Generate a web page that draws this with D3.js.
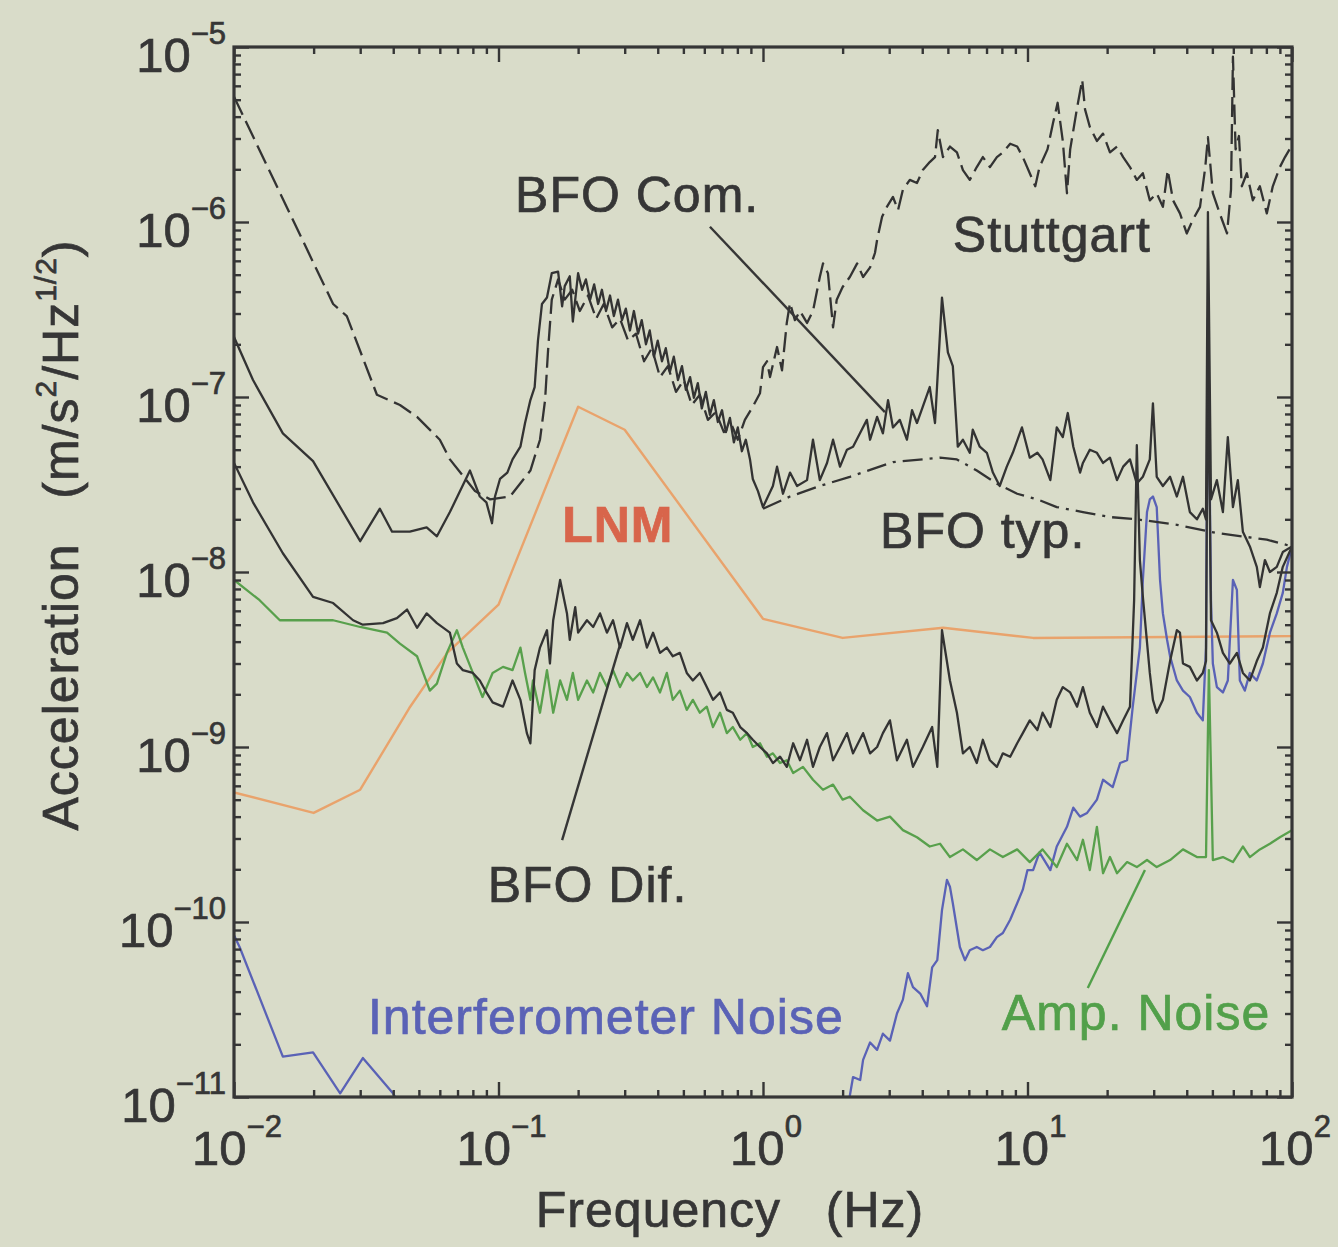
<!DOCTYPE html>
<html>
<head>
<meta charset="utf-8">
<script src="https://cdn.jsdelivr.net/npm/d3@7"></script>
<style>
  html, body { margin: 0; background: #d9dcc9; }
  svg { display: block; font-family: "Liberation Sans", Arial, Helvetica, sans-serif; }
</style>
</head>
<body>
<div id="chart"></div>
<script>
// ---- data: [frequency (Hz), acceleration (m/s^2/Hz^1/2)] ----
const stuttgart = [
  [0.01,5.2e-6],[0.0237,3.4e-7],[0.0267,2.9e-7],[0.0347,1.03e-7],[0.0424,9.0e-8],[0.0492,7.7e-8],[0.060,5.7e-8],
  [0.0655,4.4e-8],[0.0815,2.9e-8],[0.093,2.6e-8],[0.1105,2.7e-8],[0.132,3.8e-8],[0.1435,5.7e-8],[0.150,9.6e-8],
  [0.154,1.86e-7],[0.159,3.6e-7],[0.168,4.7e-7],[0.178,3.6e-7],[0.19,4.1e-7],[0.203,3.1e-7],[0.218,3.8e-7],
  [0.234,2.8e-7],[0.25,3.4e-7],[0.269,2.5e-7],[0.288,2.8e-7],[0.309,2.1e-7],[0.331,2.3e-7],[0.355,1.6e-7],
  [0.38,1.9e-7],[0.408,1.3e-7],[0.437,1.5e-7],[0.469,1.07e-7],[0.502,1.25e-7],[0.538,9.0e-8],[0.577,1.03e-7],
  [0.619,7.4e-8],[0.663,8.2e-8],[0.711,6.3e-8],[0.762,6.9e-8],[0.803,5.7e-8],[0.854,7.4e-8],[0.915,8.8e-8],
  [0.974,1.05e-7],[1.0,1.48e-7],[1.035,1.6e-7],[1.063,1.3e-7],[1.13,1.93e-7],[1.18,1.42e-7],[1.23,2.65e-7],
  [1.265,3.45e-7],[1.32,2.75e-7],[1.38,3.1e-7],[1.467,2.65e-7],[1.545,3.1e-7],[1.64,4.85e-7],[1.686,5.8e-7],
  [1.76,5.1e-7],[1.84,2.5e-7],[1.9,3.6e-7],[2.0,4.25e-7],[2.13,4.85e-7],[2.27,5.8e-7],[2.39,4.85e-7],
  [2.54,5.5e-7],[2.65,6.65e-7],[2.7,7.9e-7],[2.82,1.07e-6],[2.94,1.22e-6],[3.1,1.39e-6],[3.24,1.17e-6],
  [3.38,1.53e-6],[3.59,1.74e-6],[3.82,1.67e-6],[4.02,1.98e-6],[4.27,2.2e-6],[4.47,2.35e-6],[4.58,3.35e-6],
  [4.79,2.35e-6],[5.09,2.7e-6],[5.41,2.5e-6],[5.7,1.98e-6],[6.05,1.74e-6],[6.43,2.06e-6],[6.78,2.35e-6],
  [7.21,2.06e-6],[7.66,2.35e-6],[8.07,2.5e-6],[8.6,2.8e-6],[9.14,2.7e-6],[9.6,2.35e-6],[10.2,1.9e-6],
  [10.7,1.6e-6],[11.1,2.06e-6],[11.9,2.6e-6],[12.5,3.7e-6],[13.0,4.8e-6],[13.6,2.9e-6],[14.1,1.46e-6],
  [14.5,2.6e-6],[15.4,4.5e-6],[16.1,6.5e-6],[16.5,4.4e-6],[17.2,3.5e-6],[18.3,2.9e-6],[19.3,3.2e-6],
  [20.5,2.5e-6],[21.8,2.7e-6],[23.0,2.35e-6],[24.4,2.06e-6],[25.9,1.74e-6],[27.3,1.9e-6],[29.0,1.33e-6],
  [30.8,1.46e-6],[32.5,1.22e-6],[33.9,1.98e-6],[35.5,1.33e-6],[37.7,1.12e-6],[40.0,8.6e-7],[42.2,1.03e-6],
  [44.9,1.22e-6],[47.0,2.06e-6],[48.1,3.05e-6],[50.2,1.46e-6],[53.3,1.12e-6],[56.8,8.6e-7],[58.8,1.53e-6],
  [59.8,8.8e-6],[61.2,2.6e-6],[63.0,3.1e-6],[64.6,1.6e-6],[67.5,1.9e-6],[71.1,1.33e-6],[75.6,1.6e-6],
  [80.3,1.12e-6],[84.6,1.6e-6],[90.0,2.06e-6],[94.1,2.35e-6],[100,2.75e-6]
];

const bfoCom = [
  [0.01,2.2e-7],[0.0118,1.25e-7],[0.0153,6.2e-8],[0.0199,4.3e-8],[0.030,1.5e-8],[0.0356,2.3e-8],[0.0396,1.7e-8],
  [0.0462,1.7e-8],[0.0535,1.8e-8],[0.0585,1.6e-8],[0.0655,2.2e-8],[0.078,3.8e-8],[0.085,2.7e-8],[0.090,2.5e-8],
  [0.0945,1.9e-8],[0.097,2.7e-8],[0.1013,3.4e-8],[0.108,3.7e-8],[0.113,4.4e-8],[0.121,5.2e-8],[0.126,7.1e-8],
  [0.132,9.6e-8],[0.137,1.14e-7],[0.141,2.1e-7],[0.146,3.4e-7],[0.1525,3.7e-7],[0.159,5.1e-7],[0.168,5.2e-7],
  [0.174,3.3e-7],[0.178,4.3e-7],[0.186,4.9e-7],[0.191,2.7e-7],[0.200,5.1e-7],[0.207,4.1e-7],[0.214,4.7e-7],
  [0.222,3.6e-7],[0.230,4.4e-7],[0.238,3.4e-7],[0.246,4.1e-7],[0.255,3.1e-7],[0.264,3.8e-7],[0.273,2.9e-7],
  [0.283,3.6e-7],[0.293,2.75e-7],[0.303,3.2e-7],[0.314,2.4e-7],[0.325,3.1e-7],[0.337,2.3e-7],[0.348,2.75e-7],
  [0.361,2.0e-7],[0.373,2.4e-7],[0.387,1.7e-7],[0.400,2.1e-7],[0.415,1.6e-7],[0.429,1.9e-7],[0.445,1.4e-7],
  [0.46,1.7e-7],[0.477,1.25e-7],[0.494,1.5e-7],[0.511,1.1e-7],[0.53,1.3e-7],[0.548,9.9e-8],[0.567,1.2e-7],
  [0.587,8.6e-8],[0.608,1.07e-7],[0.63,7.9e-8],[0.652,9.6e-8],[0.675,7.2e-8],[0.70,8.4e-8],[0.724,6.3e-8],
  [0.75,7.6e-8],[0.776,5.5e-8],[0.803,6.7e-8],[0.832,4.9e-8],[0.861,5.7e-8],[0.893,4.4e-8],[0.915,3.4e-8],
  [0.957,2.9e-8],[1.0,2.35e-8],[1.09,3.1e-8],[1.13,4.0e-8],[1.19,2.8e-8],[1.265,3.7e-8],[1.345,3.1e-8],
  [1.467,3.35e-8],[1.545,5.7e-8],[1.64,3.35e-8],[1.746,4.2e-8],[1.84,5.7e-8],[1.955,4.0e-8],[2.077,5.0e-8],
  [2.19,5.2e-8],[2.326,6.2e-8],[2.47,7.4e-8],[2.54,5.7e-8],[2.70,7.7e-8],[2.84,6.2e-8],[2.97,9.6e-8],
  [3.10,6.7e-8],[3.29,7.4e-8],[3.50,5.7e-8],[3.66,8.4e-8],[3.82,7.1e-8],[4.02,8.8e-8],[4.27,1.14e-7],
  [4.47,7.1e-8],[4.75,3.7e-7],[5.0,1.8e-7],[5.22,1.5e-7],[5.45,5.2e-8],[5.70,5.7e-8],[6.05,4.8e-8],
  [6.21,6.5e-8],[6.6,5.2e-8],[7.02,4.8e-8],[7.4,3.7e-8],[7.85,3.1e-8],[8.35,4.0e-8],[8.8,4.8e-8],[9.53,6.7e-8],
  [10.2,4.5e-8],[10.9,4.8e-8],[11.4,4.4e-8],[12.2,3.35e-8],[12.9,6.7e-8],[13.6,5.9e-8],[14.2,8.1e-8],
  [14.9,5.2e-8],[15.8,3.7e-8],[16.2,4.2e-8],[17.2,5.0e-8],[18.3,4.8e-8],[19.3,4.2e-8],[20.5,4.5e-8],
  [21.8,3.35e-8],[23.0,4.0e-8],[24.4,4.4e-8],[25.9,3.2e-8],[27.3,3.5e-8],[29.0,4.4e-8],[29.8,9.2e-8],
  [30.8,3.5e-8],[32.5,3.1e-8],[34.6,3.5e-8],[36.7,2.7e-8],[38.7,3.5e-8],[41.1,2.2e-8],[43.7,2.0e-8],
  [46.0,2.3e-8],[47.3,2.0e-8],[48.1,1.14e-6],[49.4,2.6e-8],[52.0,3.35e-8],[54.8,2.2e-8],[57.2,5.9e-8],
  [59.8,2.35e-8],[62.4,3.35e-8],[65.2,1.7e-8],[69.3,1.4e-8],[73.6,1.07e-8],[75.6,8.2e-9],[79.0,1.17e-8],
  [82.5,1.0e-8],[87.6,1.07e-8],[92.3,1.3e-8],[100,1.4e-8]
];

const bfoTyp = [
  [1.0,2.3e-8],[1.265,2.7e-8],[1.64,3.1e-8],[2.13,3.5e-8],[3.1,4.25e-8],[4.67,4.5e-8],[5.41,4.4e-8],
  [6.43,3.8e-8],[7.66,3.2e-8],[9.14,2.8e-8],[10.9,2.6e-8],[12.9,2.35e-8],[16.2,2.2e-8],[20.5,2.06e-8],
  [25.9,2.0e-8],[36.7,1.86e-8],[52.0,1.67e-8],[80.3,1.53e-8],[100,1.4e-8]
];

const bfoDif = [
  [0.01,4.2e-8],[0.0118,2.5e-8],[0.0153,1.28e-8],[0.0199,7.2e-9],[0.0237,6.65e-9],[0.0282,5.3e-9],[0.0307,5.0e-9],
  [0.0366,5.1e-9],[0.0413,5.45e-9],[0.0451,6.1e-9],[0.0492,4.8e-9],[0.0535,5.8e-9],[0.0585,5.1e-9],[0.0655,4.5e-9],
  [0.0696,3.0e-9],[0.0733,2.75e-9],[0.080,2.65e-9],[0.085,2.4e-9],[0.090,2.05e-9],[0.095,1.8e-9],[0.104,1.7e-9],
  [0.113,2.4e-9],[0.121,1.86e-9],[0.128,1.2e-9],[0.132,1.05e-9],[0.137,2.75e-9],[0.1435,3.7e-9],[0.1525,4.65e-9],
  [0.1565,3.0e-9],[0.161,5.3e-9],[0.171,9.0e-9],[0.1815,5.8e-9],[0.186,4.1e-9],[0.195,6.3e-9],[0.2,4.5e-9],
  [0.216,5.3e-9],[0.228,4.85e-9],[0.242,5.8e-9],[0.257,4.5e-9],[0.271,5.3e-9],[0.288,3.7e-9],[0.306,5.1e-9],
  [0.322,4.1e-9],[0.343,5.3e-9],[0.364,3.7e-9],[0.384,4.5e-9],[0.408,3.45e-9],[0.433,3.7e-9],[0.456,3.3e-9],
  [0.485,3.45e-9],[0.515,2.65e-9],[0.543,2.4e-9],[0.577,2.65e-9],[0.613,2.2e-9],[0.647,1.86e-9],[0.688,2.05e-9],
  [0.73,1.63e-9],[0.769,1.57e-9],[0.82,1.3e-9],[0.87,1.2e-9],[0.915,1.1e-9],[0.974,1.0e-9],[1.035,9.2e-10],
  [1.09,8.1e-10],[1.16,8.8e-10],[1.23,7.7e-10],[1.30,1.05e-9],[1.38,8.4e-10],[1.467,1.1e-9],[1.545,7.7e-10],
  [1.64,1.0e-9],[1.746,1.2e-9],[1.84,8.4e-10],[1.955,1.0e-9],[2.077,1.2e-9],[2.19,9.2e-10],[2.39,1.2e-9],
  [2.54,9.2e-10],[2.70,1.0e-9],[2.84,1.2e-9],[3.02,1.42e-9],[3.21,8.4e-10],[3.50,1.1e-9],[3.69,7.7e-10],
  [4.02,1.0e-9],[4.36,1.3e-9],[4.56,7.7e-10],[4.75,4.65e-9],[5.09,2.4e-9],[5.41,1.57e-9],[5.70,9.2e-10],
  [6.05,1.0e-9],[6.43,8.1e-10],[6.78,1.1e-9],[7.21,8.4e-10],[7.66,7.7e-10],[8.07,9.2e-10],[8.6,8.8e-10],
  [9.14,1.05e-9],[9.6,1.2e-9],[10.2,1.42e-9],[10.9,1.25e-9],[11.4,1.57e-9],[12.2,1.3e-9],[12.9,1.86e-9],
  [13.6,2.2e-9],[14.5,2.05e-9],[15.4,1.7e-9],[16.2,2.2e-9],[17.2,1.57e-9],[18.3,1.3e-9],[19.3,1.7e-9],
  [20.5,1.42e-9],[21.8,1.2e-9],[23.0,1.42e-9],[24.4,1.7e-9],[25.3,6.9e-9],[25.9,5.3e-8],[26.6,1.17e-8],
  [27.3,7.2e-9],[29.0,2.65e-9],[29.8,1.86e-9],[30.8,1.57e-9],[32.5,1.86e-9],[34.6,3.1e-9],[36.7,4.65e-9],
  [37.7,4.5e-9],[38.7,3.0e-9],[41.1,2.87e-9],[43.7,2.4e-9],[46.0,2.65e-9],[47.3,3.1e-9],[48.1,2.4e-7],
  [49.4,5.3e-9],[52.0,4.5e-9],[54.8,3.45e-9],[58.2,3.0e-9],[61.9,3.45e-9],[65.2,2.65e-9],[69.3,2.4e-9],
  [73.6,3.1e-9],[77.6,3.7e-9],[82.5,5.8e-9],[87.6,7.6e-9],[92.3,1.07e-8],[100,1.4e-8]
];

const lnm = [
  [0.01,5.5e-10],[0.02,4.2e-10],[0.03,5.7e-10],[0.046,1.67e-9],[0.064,3.45e-9],[0.1,6.5e-9],[0.2,8.8e-8],
  [0.3,6.5e-8],[1.0,5.4e-9],[2.0,4.2e-9],[4.8,4.8e-9],[10.5,4.2e-9],[100,4.3e-9]
];

const ampNoise = [
  [0.01,9.0e-9],[0.0125,6.9e-9],[0.0149,5.3e-9],[0.0237,5.3e-9],[0.030,4.85e-9],[0.0379,4.5e-9],[0.0424,3.9e-9],
  [0.0492,3.3e-9],[0.055,2.1e-9],[0.0585,2.3e-9],[0.0638,3.45e-9],[0.0696,4.65e-9],[0.0733,3.7e-9],[0.080,2.65e-9],
  [0.087,1.93e-9],[0.095,2.65e-9],[0.104,2.87e-9],[0.113,2.75e-9],[0.121,3.7e-9],[0.126,2.65e-9],[0.132,1.86e-9],
  [0.135,2.4e-9],[0.1435,1.57e-9],[0.1525,2.75e-9],[0.161,1.57e-9],[0.171,2.4e-9],[0.1815,1.86e-9],[0.191,2.65e-9],
  [0.2,1.86e-9],[0.216,2.4e-9],[0.228,2.05e-9],[0.242,2.65e-9],[0.257,2.2e-9],[0.271,2.75e-9],[0.288,2.2e-9],
  [0.306,2.65e-9],[0.322,2.4e-9],[0.343,2.65e-9],[0.364,2.2e-9],[0.384,2.5e-9],[0.408,2.05e-9],[0.433,2.65e-9],
  [0.456,1.86e-9],[0.485,2.1e-9],[0.515,1.63e-9],[0.543,1.86e-9],[0.577,1.57e-9],[0.613,1.7e-9],[0.647,1.3e-9],
  [0.688,1.57e-9],[0.73,1.2e-9],[0.769,1.3e-9],[0.82,1.1e-9],[0.87,1.2e-9],[0.915,1.0e-9],[0.974,1.05e-9],
  [1.035,8.8e-10],[1.09,9.2e-10],[1.16,8.1e-10],[1.23,8.4e-10],[1.30,7.1e-10],[1.416,7.7e-10],[1.545,6.5e-10],
  [1.686,5.7e-10],[1.84,6.1e-10],[2.0,5.0e-10],[2.13,5.2e-10],[2.39,4.35e-10],[2.70,3.8e-10],[3.02,4.0e-10],
  [3.38,3.35e-10],[3.82,3.05e-10],[4.27,2.7e-10],[4.67,2.8e-10],[5.09,2.35e-10],[5.7,2.6e-10],[6.43,2.26e-10],
  [7.21,2.6e-10],[8.07,2.35e-10],[9.14,2.6e-10],[10.2,2.2e-10],[11.4,2.6e-10],[12.9,2.06e-10],[14.1,2.8e-10],
  [15.4,2.26e-10],[16.2,2.95e-10],[17.2,1.98e-10],[18.3,3.5e-10],[19.3,1.9e-10],[20.5,2.35e-10],[21.8,1.9e-10],
  [23.8,2.2e-10],[25.9,2.06e-10],[28.3,2.26e-10],[30.8,2.06e-10],[34.6,2.26e-10],[38.7,2.6e-10],[43.7,2.35e-10],
  [47.3,2.35e-10],[48.5,2.75e-9],[50.2,2.26e-10],[54.8,2.35e-10],[59.8,2.2e-10],[65.2,2.7e-10],[69.3,2.35e-10],
  [75.6,2.6e-10],[82.5,2.8e-10],[90.0,3.05e-10],[100,3.35e-10]
];

// null = the curve leaves the bottom of the plot between 0.04 and 2 Hz
const interferometer = [
  [0.01,8.4e-11],[0.0105,7.2e-11],[0.0153,1.7e-11],[0.0199,1.8e-11],[0.0252,1.05e-11],[0.0307,1.67e-11],
  [0.0399,1.05e-11],[0.0424,9e-12], null,
  [2.1,9e-12],[2.19,1.3e-11],[2.33,1.25e-11],[2.39,1.63e-11],[2.54,2.05e-11],[2.70,1.86e-11],[2.84,2.3e-11],
  [3.02,2.1e-11],[3.21,3.0e-11],[3.38,3.6e-11],[3.53,5.1e-11],[3.69,4.25e-11],[3.93,3.9e-11],[4.17,3.3e-11],
  [4.36,5.5e-11],[4.56,6.05e-11],[4.75,1.17e-10],[4.96,1.74e-10],[5.09,1.59e-10],[5.22,1.28e-10],[5.55,7.2e-11],
  [5.80,6.05e-11],[6.05,6.9e-11],[6.43,7.2e-11],[6.78,6.9e-11],[7.21,7.2e-11],[7.66,8.2e-11],[8.07,8.65e-11],
  [8.6,1.03e-10],[9.14,1.28e-10],[9.6,1.53e-10],[10.0,1.98e-10],[10.5,1.98e-10],[11.1,2.5e-10],[12.2,1.98e-10],
  [12.9,2.7e-10],[14.1,3.5e-10],[14.9,4.5e-10],[15.8,4.0e-10],[16.8,4.2e-10],[18.3,5.0e-10],[19.3,6.5e-10],
  [21.0,5.9e-10],[22.4,8.1e-10],[23.8,8.4e-10],[25.0,1.7e-9],[26.6,3.7e-9],[27.3,9.0e-9],[28.3,2.2e-8],
  [29.0,2.6e-8],[29.8,2.7e-8],[30.8,2.35e-8],[31.7,9.0e-9],[32.5,5.8e-9],[33.7,4.1e-9],[34.6,3.3e-9],
  [36.7,2.4e-9],[38.7,2.1e-9],[41.1,1.93e-9],[43.7,1.57e-9],[46.0,1.42e-9],[47.3,3.7e-9],[48.1,2.8e-7],
  [49.4,6.9e-9],[50.2,3.0e-9],[52.0,2.2e-9],[54.8,2.05e-9],[57.2,2.4e-9],[59.8,9.0e-9],[61.9,7.9e-9],
  [63.5,2.4e-9],[66.3,2.1e-9],[69.3,2.65e-9],[73.6,2.4e-9],[77.6,3.0e-9],[82.5,4.5e-9],[87.6,5.8e-9],
  [92.3,7.6e-9],[95.7,1.07e-8],[100,1.4e-8]
];

const xMajor = [1e-2, 1e-1, 1e0, 1e1, 1e2];
const xExp = ['\u22122', '\u22121', '0', '1', '2'];
const yMajor = [1e-5, 1e-6, 1e-7, 1e-8, 1e-9, 1e-10, 1e-11];
const yExp = ['\u22125', '\u22126', '\u22127', '\u22128', '\u22129', '\u221210', '\u221211'];

// text labels placed in data space: [f, a]
const labels = [
  { text: 'BFO Com.', at: [0.1155, 1.14e-6], color: '#363636' },
  { text: 'Stuttgart', at: [5.22, 6.7e-7], color: '#363636' },
  { text: 'BFO typ.', at: [2.77, 1.37e-8], color: '#363636' },
  { text: 'LNM', at: [0.174, 1.48e-8], color: '#d8654b', weight: 700 },
  { text: 'BFO Dif.', at: [0.091, 1.3e-10], color: '#363636' },
  { text: 'Interferometer Noise', at: [0.0321, 2.3e-11], color: '#5a62b6' },
  { text: 'Amp. Noise', at: [8.0, 2.4e-11], color: '#52a04a' }
];
const leaders = [
  { from: [0.63, 9.4e-7], to: [2.89, 8.2e-8], color: '#363636' },
  { from: [0.174, 2.94e-10], to: [0.288, 3.83e-9], color: '#363636' },
  { from: [16.9, 4.2e-11], to: [27.8, 1.98e-10], color: '#52a04a' }
];

// ---- drawing ----
const W = 1338, H = 1247;
const plot = { left: 234, right: 1292, top: 47, bottom: 1097 };
const ink = '#363636';

const x = d3.scaleLog().domain([1e-2, 1e2]).range([plot.left, plot.right]);
const y = d3.scaleLog().domain([1e-11, 1e-5]).range([plot.bottom, plot.top]);

const svg = d3.select('#chart').append('svg')
  .attr('width', W).attr('height', H);

svg.append('rect').attr('width', W).attr('height', H).attr('fill', '#d9dcc9');

svg.append('clipPath').attr('id', 'clip')
  .append('rect')
  .attr('x', plot.left).attr('y', plot.top)
  .attr('width', plot.right - plot.left).attr('height', plot.bottom - plot.top);

const line = d3.line()
  .defined(d => d !== null)
  .x(d => x(d[0]))
  .y(d => y(d[1]));

const series = [
  { data: lnm, color: '#e9a36c', width: 2.4 },
  { data: interferometer, color: '#5a62b6', width: 2.3 },
  { data: ampNoise, color: '#58a04c', width: 2.3 },
  { data: bfoDif, color: '#333333', width: 2.3 },
  { data: bfoTyp, color: '#333333', width: 2.3, dash: '20,7,3,7' },
  { data: stuttgart, color: '#333333', width: 2.3, dash: '20,7' },
  { data: bfoCom, color: '#333333', width: 2.3 }
];

const lines = svg.append('g').attr('clip-path', 'url(#clip)');
series.forEach(s => {
  lines.append('path')
    .datum(s.data)
    .attr('fill', 'none')
    .attr('stroke', s.color)
    .attr('stroke-width', s.width)
    .attr('stroke-linejoin', 'round')
    .attr('stroke-dasharray', s.dash || null)
    .attr('d', line);
});

// ticks on all four sides, pointing inwards
const isMajor = v => Math.abs(Math.log10(v) - Math.round(Math.log10(v))) < 1e-9;
const xMinor = x.ticks().filter(v => !isMajor(v));
const yMinor = y.ticks().filter(v => !isMajor(v));

function tickAxis(axisFn, scale, transform, values, size) {
  svg.append('g')
    .attr('transform', transform)
    .call(axisFn(scale).tickValues(values).tickSize(size).tickSizeOuter(0).tickFormat(''))
    .call(g => g.select('.domain').remove())
    .selectAll('line')
    .attr('stroke', ink)
    .attr('stroke-width', 2.4);
}
tickAxis(d3.axisBottom, x, `translate(0,${plot.bottom})`, xMajor, -15);
tickAxis(d3.axisBottom, x, `translate(0,${plot.bottom})`, xMinor, -7);
tickAxis(d3.axisTop, x, `translate(0,${plot.top})`, xMajor, -15);
tickAxis(d3.axisTop, x, `translate(0,${plot.top})`, xMinor, -7);
tickAxis(d3.axisLeft, y, `translate(${plot.left},0)`, yMajor, -15);
tickAxis(d3.axisLeft, y, `translate(${plot.left},0)`, yMinor, -7);
tickAxis(d3.axisRight, y, `translate(${plot.right},0)`, yMajor, -15);
tickAxis(d3.axisRight, y, `translate(${plot.right},0)`, yMinor, -7);

svg.append('rect')
  .attr('x', plot.left).attr('y', plot.top)
  .attr('width', plot.right - plot.left).attr('height', plot.bottom - plot.top)
  .attr('fill', 'none').attr('stroke', ink).attr('stroke-width', 3.2);

// text is drawn with a thin outline in its own colour to match the heavier print
function heavy(sel, color) {
  return sel.attr('fill', color).attr('stroke', color).attr('stroke-width', 0.7);
}

// tick labels: 10 with a superscript exponent
yMajor.forEach((v, i) => {
  const t = heavy(svg.append('text'), ink)
    .attr('x', plot.left - 8).attr('y', y(v) + 25)
    .attr('text-anchor', 'end')
    .attr('font-size', 49);
  t.append('tspan').text('10');
  t.append('tspan').attr('dy', -28).attr('font-size', 31).text(yExp[i]);
});
xMajor.forEach((v, i) => {
  const t = heavy(svg.append('text'), ink)
    .attr('x', x(v) + 3).attr('y', plot.bottom + 68)
    .attr('text-anchor', 'middle')
    .attr('font-size', 49);
  t.append('tspan').text('10');
  t.append('tspan').attr('dy', -28).attr('font-size', 31).text(xExp[i]);
});

// axis titles
heavy(svg.append('text'), ink)
  .attr('x', 730).attr('y', 1227)
  .attr('text-anchor', 'middle')
  .attr('font-size', 50).attr('letter-spacing', 1)
  .text('Frequency\u00a0\u00a0\u00a0(Hz)');

const yt = heavy(svg.append('text'), ink)
  .attr('transform', 'translate(78,535) rotate(-90)')
  .attr('text-anchor', 'middle')
  .attr('font-size', 50).attr('letter-spacing', 1);
yt.append('tspan').text('Acceleration\u00a0\u00a0\u00a0(m/s');
yt.append('tspan').attr('dy', -22).attr('font-size', 30).text('2');
yt.append('tspan').attr('dy', 22).text('/Hz');
yt.append('tspan').attr('dy', -22).attr('font-size', 30).text('1/2');
yt.append('tspan').attr('dy', 22).text(')');

// in-plot annotations
leaders.forEach(l => {
  svg.append('line')
    .attr('x1', x(l.from[0])).attr('y1', y(l.from[1]))
    .attr('x2', x(l.to[0])).attr('y2', y(l.to[1]))
    .attr('stroke', l.color).attr('stroke-width', 2.4);
});
labels.forEach(l => {
  heavy(svg.append('text'), l.color)
    .attr('x', x(l.at[0])).attr('y', y(l.at[1]))
    .attr('font-size', 50)
    .attr('font-weight', l.weight || 400)
    .attr('letter-spacing', 1)
    .text(l.text);
});
</script>
</body>
</html>
